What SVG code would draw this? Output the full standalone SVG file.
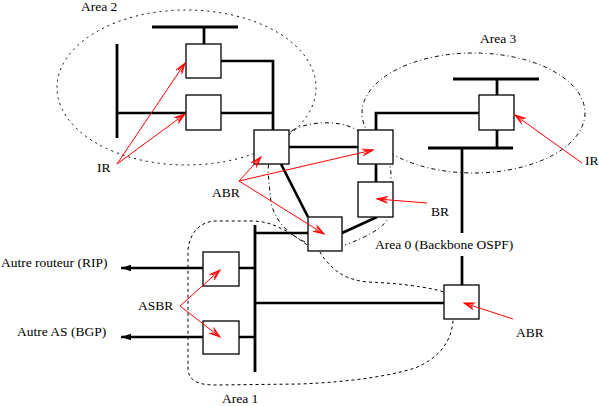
<svg xmlns="http://www.w3.org/2000/svg" width="599" height="406" viewBox="0 0 599 406">
<style>
.bg{fill:#fff}
.box{fill:#fff;stroke:#000;stroke-width:1.3}
.bus{fill:none;stroke:#000;stroke-width:2.8}
.link{fill:none;stroke:#000;stroke-width:2.7}
.area{fill:none;stroke:#000;stroke-width:1}
.dot{stroke-dasharray:2 4}
.dashdot{stroke-dasharray:4 3 1 3}
.dash{stroke-dasharray:3 3}
.ptr{fill:none;stroke:#f00;stroke-width:1;marker-end:url(#ra)}
text{font-family:"Liberation Serif","Times New Roman",serif;font-size:13.5px;fill:#000}
</style>
<defs>
<marker id="ra" markerUnits="userSpaceOnUse" markerWidth="14" markerHeight="10" refX="11" refY="4" orient="auto">
<path d="M0,0.5 L11,4 L0,7.5 M1.5,2.2 L11,4 L1.5,5.8" fill="none" stroke="#f00" stroke-width="1"/>
</marker>
<marker id="ba" markerUnits="userSpaceOnUse" markerWidth="14" markerHeight="10" refX="10" refY="4" orient="auto">
<path d="M10,4 L0,0.8 L0,7.2 Z" fill="#000"/>
</marker>
</defs>
<rect class="bg" x="0" y="0" width="599" height="406"/>

<g id="areas">
<ellipse class="area dot" cx="186.5" cy="87.5" rx="129.5" ry="77.5"/>
<ellipse class="area dashdot" cx="473.5" cy="113" rx="111.5" ry="60"/>
<path class="area dashdot" d="M293,130 C310,121 342,119 360,132 C378,142 391,155 391,175 L391,213 C386,228 366,237 345,245 M305,242 C288,234 276,222 271,203 L268,172 C268,158 275,147 283,140 C287,135 290,132 293,130"/>
<path class="area dash" d="M342,247 L310,247 C300,240 290,232 280,228 C270,223 262,221 250,221 L215,221 C200,222 190,232 188,250 L188,370 C189,380 197,385 215,385 L300,384 C350,382 390,376 415,368 C440,358 452,340 453,320 L453,305 C452,297 447,292 437,290 C420,286 395,283 367,282 C350,280 338,274 330,265 C325,260 322,256 320,252"/>
</g>

<g id="connectors">
<path class="bus" d="M152,27 H238 M117,44 V138 M453,79 H539 M428,148 H513 M255,225 V372"/>
<path class="link" d="M204,27 V44 M117,113 H186 M221,61 H273 V130 M221,113 H273 M289,147 H358 M376,130 V113 H479 M497,79 V95 M497,130 V148 M462,148 V233 M462,256 V285 M376,164 V182 M281,164 L308,217 M342,233 L377,217 M255,233 H308 M239,268 H255 M239,337 H255 M255,303 H444"/>
<path class="link" d="M203,268 H121" marker-end="url(#ba)"/>
<path class="link" d="M203,337 H121" marker-end="url(#ba)"/>
</g>

<g id="area2-r1"><rect class="box" x="186" y="44" width="35" height="34"/></g>
<g id="area2-r2"><rect class="box" x="186" y="95" width="35" height="35"/></g>
<g id="abr1"><rect class="box" x="254" y="130" width="35" height="34"/></g>
<g id="abr-center"><rect class="box" x="358" y="130" width="35" height="34"/></g>
<g id="area3-r"><rect class="box" x="479" y="95" width="35" height="35"/></g>
<g id="br"><rect class="box" x="358" y="182" width="35" height="35"/></g>
<g id="abr-bottom"><rect class="box" x="308" y="217" width="34" height="34"/></g>
<g id="asbr1"><rect class="box" x="203" y="252" width="36" height="34"/></g>
<g id="asbr2"><rect class="box" x="203" y="321" width="36" height="33"/></g>
<g id="abr2"><rect class="box" x="444" y="285" width="35" height="34"/></g>

<g id="pointers">
<path class="ptr" d="M117,164 L185,63"/>
<path class="ptr" d="M117,164 L185,114"/>
<path class="ptr" d="M239,181 L261,157"/>
<path class="ptr" d="M239,181 L373,150"/>
<path class="ptr" d="M239,181 L324,234"/>
<path class="ptr" d="M582,163 L515,115"/>
<path class="ptr" d="M427,203 L377,199"/>
<path class="ptr" d="M513,319 L464,303"/>
<path class="ptr" d="M180,306 L220,270"/>
<path class="ptr" d="M180,306 L220,337"/>
</g>

<g id="labels">
<text x="81" y="11">Area 2</text>
<text x="480" y="43">Area 3</text>
<text x="97" y="172">IR</text>
<text x="585" y="165">IR</text>
<text x="212" y="197">ABR</text>
<text x="431" y="216">BR</text>
<text x="375" y="249">Area 0 (Backbone OSPF)</text>
<text x="1" y="267">Autre routeur (RIP)</text>
<text x="138" y="310">ASBR</text>
<text x="17" y="336">Autre AS (BGP)</text>
<text x="516" y="337">ABR</text>
<text x="222" y="403">Area 1</text>
</g>
</svg>
